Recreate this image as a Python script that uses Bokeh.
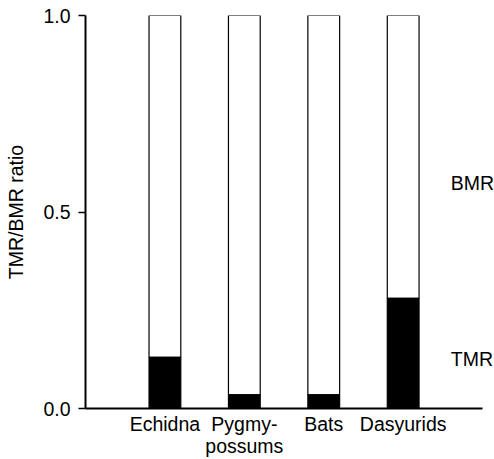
from bokeh.plotting import figure
from bokeh.models import Range1d, FixedTicker, Label
from bokeh.embed import file_html
from bokeh.resources import INLINE

# data
groups = ["Echidna", "Pygmy-\npossums", "Bats", "Dasyurids"]
group_pos = [1, 2, 3, 4]
tmr_ratio = [0.13, 0.035, 0.035, 0.28]
bmr_ratio = [1.0, 1.0, 1.0, 1.0]
y_ticks = [0.0, 0.5, 1.0]
y_tick_labels = ["0.0", "0.5", "1.0"]

FONT = "Liberation Sans"
FS = "19.5px"

p = figure(width=494, height=459, output_backend="svg", toolbar_location=None,
           x_range=Range1d(0, 5.15), y_range=Range1d(0, 1),
           min_border_left=85, min_border_right=0, min_border_top=15, min_border_bottom=51)
p.outline_line_color = None
p.xgrid.visible = False
p.ygrid.visible = False
p.background_fill_color = "white"
p.border_fill_color = "white"

# white BMR bars then black TMR part
p.vbar(x=group_pos, width=0.4, bottom=tmr_ratio, top=bmr_ratio,
       fill_color="white", line_color="black", line_width=1.2)
p.vbar(x=group_pos, width=0.4, bottom=0, top=tmr_ratio,
       fill_color="black", line_color="black", line_width=1.2)

# axes
xa = p.xaxis[0]
xa.ticker = FixedTicker(ticks=group_pos)
xa.major_label_overrides = {g: lab for g, lab in zip(group_pos, groups)}
xa.bounds = (0, 5)
xa.major_tick_out = 0
xa.major_tick_in = 0
xa.minor_tick_out = 0
xa.minor_tick_in = 0
xa.axis_line_width = 2
xa.major_label_standoff = 4
xa.major_label_text_font = FONT
xa.major_label_text_font_size = FS
xa.major_label_text_line_height = 1.0
xa.major_label_text_color = "black"

ya = p.yaxis[0]
ya.ticker = FixedTicker(ticks=y_ticks)
ya.major_label_overrides = {t: lab for t, lab in zip(y_ticks, y_tick_labels)}
ya.bounds = (0, 1)
ya.major_tick_out = 7
ya.major_tick_in = 0
ya.minor_tick_out = 0
ya.minor_tick_in = 0
ya.axis_line_width = 2
ya.major_tick_line_width = 1.5
ya.major_label_standoff = 8
ya.major_label_text_font = FONT
ya.major_label_text_font_size = FS
ya.major_label_text_color = "black"
ya.axis_label = "TMR/BMR ratio"
ya.axis_label_text_font = FONT
ya.axis_label_text_font_size = FS
ya.axis_label_text_font_style = "normal"
ya.axis_label_text_color = "black"
ya.axis_label_standoff = 13

# series labels
p.add_layout(Label(x=4.6, y=0.575, text="BMR", text_align="left",
                   text_baseline="middle", text_font=FONT, text_font_size=FS,
                   text_color="black"))
p.add_layout(Label(x=4.6, y=0.127, text="TMR", text_align="left",
                   text_baseline="middle", text_font=FONT, text_font_size=FS,
                   text_color="black"))

open("out.html", "w").write(file_html(p, INLINE))
